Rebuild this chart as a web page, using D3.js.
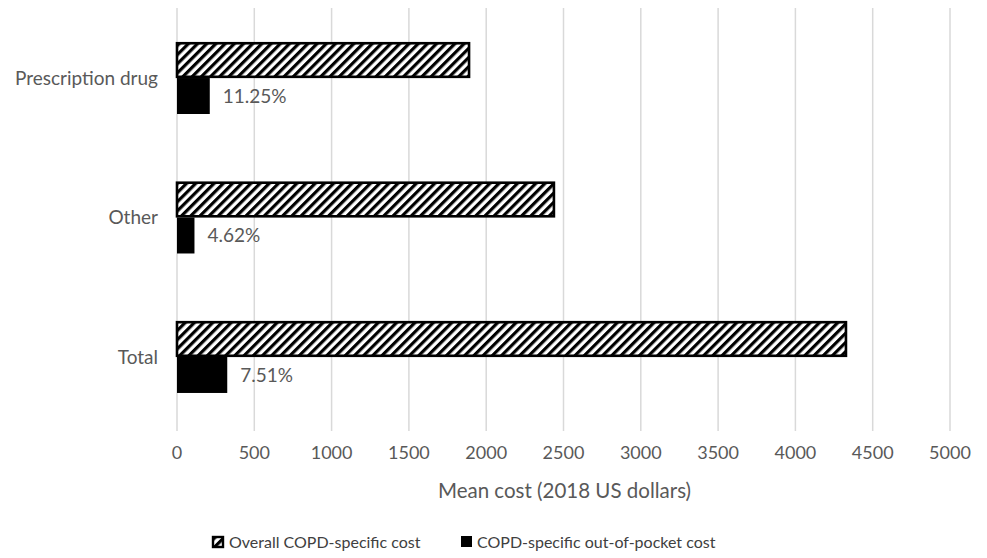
<!DOCTYPE html>
<html lang="en">
<head>
<meta charset="UTF-8">
<title>COPD-specific cost</title>
<script src="https://d3js.org/d3.v7.min.js"></script>
<style>
  body { margin: 0; background: #fff; }
  text { font-family: Lato, "Open Sans", sans-serif; fill: #595959; }
</style>
</head>
<body>
<div id="chart"></div>
<script>
// data
const categories = ["Prescription drug", "Other", "Total"];
const series = ["Overall COPD-specific cost", "COPD-specific out-of-pocket cost"];
const overallCost = [1889, 2438, 4327];
const outOfPocketCost = [212, 113, 325];
const shareLabels = ["11.25%", "4.62%", "7.51%"];
const xTicks = [0, 500, 1000, 1500, 2000, 2500, 3000, 3500, 4000, 4500, 5000];

const W = 987, H = 558;
const svg = d3.select("#chart").append("svg").attr("width", W).attr("height", H);

const defs = svg.append("defs");
const pat = defs.append("pattern")
    .attr("id", "hatch")
    .attr("patternUnits", "userSpaceOnUse")
    .attr("width", 6.5).attr("height", 6.5)
    .attr("patternTransform", "rotate(45)");
pat.append("rect").attr("width", 6.5).attr("height", 6.5).attr("fill", "#fff");
pat.append("line").attr("x1", 1.6).attr("y1", 0).attr("x2", 1.6).attr("y2", 6.5)
    .attr("stroke", "#000").attr("stroke-width", 3.2);

const x = d3.scaleLinear().domain([0, 5000]).range([177, 950]);
const y = d3.scaleBand().domain(categories).range([8, 427]).paddingInner(0.484).paddingOuter(0.244);
const y1 = d3.scaleBand().domain(series).range([0, y.bandwidth()]);

// grid
svg.append("g").selectAll("line").data(xTicks).join("line")
    .attr("x1", d => x(d)).attr("x2", d => x(d))
    .attr("y1", 8).attr("y2", 431)
    .attr("stroke", "#d9d9d9").attr("stroke-width", 1.5);

// tick labels
svg.append("g").selectAll("text").data(xTicks).join("text")
    .attr("x", d => x(d)).attr("y", 459)
    .attr("text-anchor", "middle")
    .style("font-size", "18px")
    .text(d => d);

svg.append("text").attr("x", x(2500) + 1).attr("y", 498)
    .attr("text-anchor", "middle").style("font-size", "20.5px")
    .text("Mean cost (2018 US dollars)");

// category labels
svg.append("g").selectAll("text").data(categories).join("text")
    .attr("x", 158).attr("y", d => y(d) + y.bandwidth() / 2)
    .attr("dy", "0.35em").attr("text-anchor", "end")
    .style("font-size", "19px")
    .text(d => d);

// bars
const rows = categories.map((c, i) => ({ cat: c, overall: overallCost[i], oop: outOfPocketCost[i], label: shareLabels[i] }));

svg.append("g").selectAll("rect").data(rows).join("rect")
    .attr("x", x(0)).attr("y", d => y(d.cat) + y1(series[0]) + 1.2)
    .attr("width", d => x(d.overall) - x(0))
    .attr("height", y1.bandwidth() - 2.4)
    .attr("fill", "url(#hatch)")
    .attr("stroke", "#000").attr("stroke-width", 2.6);

svg.append("g").selectAll("rect").data(rows).join("rect")
    .attr("x", x(0)).attr("y", d => y(d.cat) + y1(series[1]))
    .attr("width", d => x(d.oop) - x(0))
    .attr("height", y1.bandwidth())
    .attr("fill", "#000");

svg.append("g").selectAll("text").data(rows).join("text")
    .attr("x", d => x(d.oop) + 13)
    .attr("y", d => y(d.cat) + y1(series[1]) + y1.bandwidth() / 2)
    .attr("dy", "0.35em")
    .style("font-size", "19px")
    .text(d => d.label);

// legend
const lg = svg.append("g").attr("transform", "translate(0,548)");
lg.append("rect").attr("x", 213).attr("y", -11).attr("width", 10).attr("height", 10)
    .attr("fill", "url(#hatch)").attr("stroke", "#000").attr("stroke-width", 2.4);
lg.append("text").attr("x", 229).attr("y", 0).style("font-size", "16px").style("fill", "#404040")
    .text(series[0]);
lg.append("rect").attr("x", 461).attr("y", -12).attr("width", 11).attr("height", 11).attr("fill", "#000");
lg.append("text").attr("x", 477).attr("y", 0).style("font-size", "16px").style("fill", "#404040")
    .text(series[1]);
</script>
</body>
</html>
